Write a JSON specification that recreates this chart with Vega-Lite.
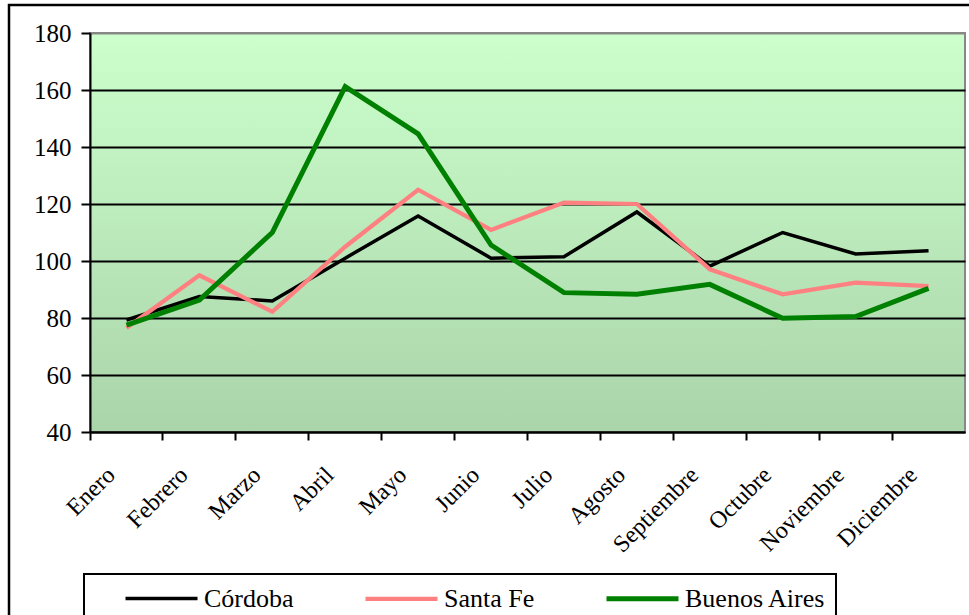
{
  "$schema": "https://vega.github.io/schema/vega-lite/v6.json",
  "width": 875,
  "height": 399,
  "autosize": {"type": "none"},
  "padding": {"left": 90, "top": 33, "right": 4, "bottom": 183},
  "background": "white",
  "config": {
    "font": "Liberation Serif",
    "view": {
      "fill": {"gradient": "linear", "x1": 0, "y1": 0, "x2": 0, "y2": 1, "stops": [{"offset": 0, "color": "#ccffcc"}, {"offset": 1, "color": "#aad4aa"}]},
      "stroke": "#888888",
      "strokeWidth": 2
    },
    "axis": {"labelFont": "Liberation Serif", "labelColor": "black", "labelFontSize": 24}
  },
  "data": {
    "values": [
      {"month": "Enero", "serie": "Córdoba", "valor": 79.3},
      {"month": "Febrero", "serie": "Córdoba", "valor": 87.5},
      {"month": "Marzo", "serie": "Córdoba", "valor": 86},
      {"month": "Abril", "serie": "Córdoba", "valor": 101},
      {"month": "Mayo", "serie": "Córdoba", "valor": 115.8},
      {"month": "Junio", "serie": "Córdoba", "valor": 101},
      {"month": "Julio", "serie": "Córdoba", "valor": 101.5},
      {"month": "Agosto", "serie": "Córdoba", "valor": 117.2},
      {"month": "Septiembre", "serie": "Córdoba", "valor": 98.2},
      {"month": "Octubre", "serie": "Córdoba", "valor": 110},
      {"month": "Noviembre", "serie": "Córdoba", "valor": 102.5},
      {"month": "Diciembre", "serie": "Córdoba", "valor": 103.6},
      {"month": "Enero", "serie": "Santa Fe", "valor": 76.5},
      {"month": "Febrero", "serie": "Santa Fe", "valor": 95},
      {"month": "Marzo", "serie": "Santa Fe", "valor": 82.2},
      {"month": "Abril", "serie": "Santa Fe", "valor": 105},
      {"month": "Mayo", "serie": "Santa Fe", "valor": 125},
      {"month": "Junio", "serie": "Santa Fe", "valor": 110.9},
      {"month": "Julio", "serie": "Santa Fe", "valor": 120.5},
      {"month": "Agosto", "serie": "Santa Fe", "valor": 120},
      {"month": "Septiembre", "serie": "Santa Fe", "valor": 97.1},
      {"month": "Octubre", "serie": "Santa Fe", "valor": 88.3},
      {"month": "Noviembre", "serie": "Santa Fe", "valor": 92.4},
      {"month": "Diciembre", "serie": "Santa Fe", "valor": 91.2},
      {"month": "Enero", "serie": "Buenos Aires", "valor": 77.5},
      {"month": "Febrero", "serie": "Buenos Aires", "valor": 86.3},
      {"month": "Marzo", "serie": "Buenos Aires", "valor": 110},
      {"month": "Abril", "serie": "Buenos Aires", "valor": 161.2},
      {"month": "Mayo", "serie": "Buenos Aires", "valor": 144.6},
      {"month": "Junio", "serie": "Buenos Aires", "valor": 105.6},
      {"month": "Julio", "serie": "Buenos Aires", "valor": 88.9},
      {"month": "Agosto", "serie": "Buenos Aires", "valor": 88.3},
      {"month": "Septiembre", "serie": "Buenos Aires", "valor": 91.8},
      {"month": "Octubre", "serie": "Buenos Aires", "valor": 79.9},
      {"month": "Noviembre", "serie": "Buenos Aires", "valor": 80.5},
      {"month": "Diciembre", "serie": "Buenos Aires", "valor": 90.4}
    ]
  },
  "mark": {"type": "line", "strokeJoin": "miter"},
  "encoding": {
    "x": {
      "field": "month",
      "type": "ordinal",
      "sort": ["Enero", "Febrero", "Marzo", "Abril", "Mayo", "Junio", "Julio", "Agosto", "Septiembre", "Octubre", "Noviembre", "Diciembre"],
      "scale": {"type": "band", "paddingInner": 0, "paddingOuter": 0},
      "bandPosition": 0.5,
      "axis": {
        "title": null,
        "bandPosition": 0,
        "labelAngle": -45,
        "labelAlign": "right",
        "labelBaseline": "middle",
        "labelOffset": -15,
        "labelPadding": 31,
        "labelOverlap": false,
        "labelBound": false,
        "labelFlush": false,
        "grid": false,
        "tickColor": "black",
        "tickWidth": 2,
        "tickSize": 8,
        "domainColor": "black",
        "domainWidth": 2
      }
    },
    "y": {
      "field": "valor",
      "type": "quantitative",
      "scale": {"domain": [40, 180], "nice": false, "zero": false},
      "axis": {
        "title": null,
        "values": [40, 60, 80, 100, 120, 140, 160, 180],
        "grid": true,
        "gridColor": {"condition": {"test": "datum.value == 180", "value": "#888888"}, "value": "black"},
        "gridWidth": 2,
        "tickColor": "black",
        "tickWidth": 2,
        "tickSize": 9,
        "domainColor": "black",
        "domainWidth": 2,
        "labelFontSize": 25,
        "labelPadding": 10
      }
    },
    "color": {
      "field": "serie",
      "type": "nominal",
      "sort": ["Córdoba", "Santa Fe", "Buenos Aires"],
      "scale": {"domain": ["Córdoba", "Santa Fe", "Buenos Aires"], "range": ["#000000", "#ff8080", "#008000"]},
      "legend": {
        "title": null,
        "orient": "none",
        "legendX": -6,
        "legendY": 541,
        "direction": "horizontal",
        "columns": 3,
        "gridAlign": "each",
        "columnPadding": 40,
        "padding": 10,
        "strokeColor": "black",
        "symbolType": "M-3,0H3",
        "symbolSize": 576,
        "symbolStrokeWidth": 4,
        "symbolOffset": 53,
        "labelOffset": 28,
        "labelFont": "Liberation Serif",
        "labelFontSize": 26,
        "labelColor": "black",
        "encode": {"legend": {"update": {"strokeWidth": {"value": 2}}}}
      }
    },
    "strokeWidth": {
      "field": "serie",
      "type": "nominal",
      "scale": {"domain": ["Córdoba", "Santa Fe", "Buenos Aires"], "range": [3.5, 5, 4]},
      "legend": null
    },
    "opacity": {
      "datum": 1,
      "type": "quantitative",
      "scale": {"domain": [0, 1], "range": [1, 1]},
      "legend": {
        "title": null,
        "orient": "none",
        "legendX": -81,
        "legendY": -28,
        "padding": 720,
        "values": [1],
        "labelExpr": "''",
        "symbolOpacity": 0,
        "labelOpacity": 0,
        "strokeColor": "black",
        "encode": {
          "legend": {"update": {"strokeWidth": {"value": 2.5}}},
          "symbols": {"update": {"opacity": {"value": 0}}}
        }
      }
    }
  }
}
